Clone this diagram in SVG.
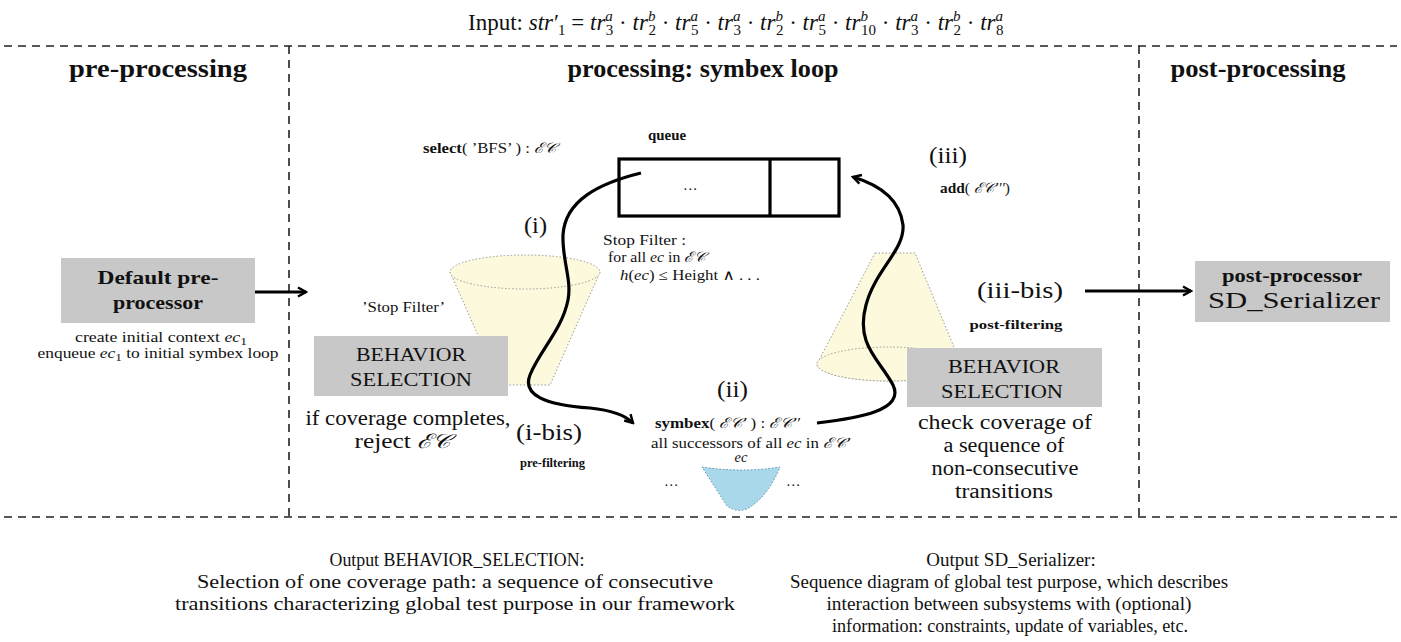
<svg xmlns="http://www.w3.org/2000/svg" width="1401" height="642" viewBox="0 0 1401 642">
<style>
text{font-family:"Liberation Serif","DejaVu Serif",serif;fill:#111}
.h{font-size:26px;font-weight:bold;text-anchor:middle}
.box{fill:#c8c8c8}
.bt{font-size:19px;text-anchor:middle}
.sm{font-size:14.5px}
.lbl{font-size:23px}
.it{font-style:italic}
.b{font-weight:bold}
.dash{stroke:#222;stroke-width:1.6;stroke-dasharray:8,6;fill:none}
.cone{fill:#fdf9dc;stroke:#999;stroke-width:1;stroke-dasharray:1.5,2}
.con{fill:none;stroke:#000;stroke-width:3.2}
.mid{text-anchor:middle}
.md{font-size:20px;text-anchor:middle}
.out{font-size:19px;text-anchor:middle}
</style>
<defs>
<marker id="arr" viewBox="0 0 12 12" refX="10" refY="6" markerWidth="12" markerHeight="12" markerUnits="userSpaceOnUse" orient="auto">
<path d="M2,1.5 L10,6 L2,10.5" fill="none" stroke="#000" stroke-width="2.4"/>
</marker>
</defs>

<g id="title">
<text x="468" y="30" font-size="23">Input: <tspan class="it">str</tspan><tspan dx="1">′</tspan><tspan font-size="15" dx="-1" dy="5">1</tspan><tspan dy="-5"> = </tspan><tspan class="it">tr</tspan><tspan class="it" font-size="15" dy="-9">a</tspan><tspan font-size="15" dx="-7" dy="14">3</tspan><tspan dy="-5"> · </tspan><tspan class="it">tr</tspan><tspan class="it" font-size="15" dy="-9">b</tspan><tspan font-size="15" dx="-7" dy="14">2</tspan><tspan dy="-5"> · </tspan><tspan class="it">tr</tspan><tspan class="it" font-size="15" dy="-9">a</tspan><tspan font-size="15" dx="-7" dy="14">5</tspan><tspan dy="-5"> · </tspan><tspan class="it">tr</tspan><tspan class="it" font-size="15" dy="-9">a</tspan><tspan font-size="15" dx="-7" dy="14">3</tspan><tspan dy="-5"> · </tspan><tspan class="it">tr</tspan><tspan class="it" font-size="15" dy="-9">b</tspan><tspan font-size="15" dx="-7" dy="14">2</tspan><tspan dy="-5"> · </tspan><tspan class="it">tr</tspan><tspan class="it" font-size="15" dy="-9">a</tspan><tspan font-size="15" dx="-7" dy="14">5</tspan><tspan dy="-5"> · </tspan><tspan class="it">tr</tspan><tspan class="it" font-size="15" dy="-9">b</tspan><tspan font-size="15" dx="-7" dy="14">10</tspan><tspan dy="-5"> · </tspan><tspan class="it">tr</tspan><tspan class="it" font-size="15" dy="-9">a</tspan><tspan font-size="15" dx="-7" dy="14">3</tspan><tspan dy="-5"> · </tspan><tspan class="it">tr</tspan><tspan class="it" font-size="15" dy="-9">b</tspan><tspan font-size="15" dx="-7" dy="14">2</tspan><tspan dy="-5"> · </tspan><tspan class="it">tr</tspan><tspan class="it" font-size="15" dy="-9">a</tspan><tspan font-size="15" dx="-7" dy="14">8</tspan></text>
</g>

<g id="frame">
<line class="dash" x1="4" y1="46" x2="1397" y2="46"/>
<line class="dash" x1="4" y1="517" x2="1397" y2="517"/>
<line class="dash" x1="289" y1="46" x2="289" y2="517"/>
<line class="dash" x1="1139" y1="46" x2="1139" y2="517"/>
<text class="h" x="158" y="77" textLength="178" lengthAdjust="spacingAndGlyphs">pre-processing</text>
<text class="h" x="703" y="77" textLength="271" lengthAdjust="spacingAndGlyphs">processing: symbex loop</text>
<text class="h" x="1258" y="77" textLength="175" lengthAdjust="spacingAndGlyphs">post-processing</text>
</g>

<g id="pre-processor">
<rect class="box" x="61" y="258" width="194" height="65"/>
<text class="bt b" x="158" y="284" textLength="121" lengthAdjust="spacingAndGlyphs">Default pre-</text>
<text class="bt b" x="158" y="309" textLength="90" lengthAdjust="spacingAndGlyphs">processor</text>
<text class="sm mid" x="161" y="342" textLength="172" lengthAdjust="spacingAndGlyphs">create initial context <tspan class="it">ec</tspan><tspan font-size="11" dy="3">1</tspan></text>
<text class="sm mid" x="158" y="358" textLength="241" lengthAdjust="spacingAndGlyphs">enqueue <tspan class="it">ec</tspan><tspan font-size="11" dy="3">1</tspan><tspan dy="-3"> to initial symbex loop</tspan></text>
</g>

<g id="left-cone">
<path class="cone" d="M450,272 L500,385 L550,385 L600,272 Z"/>
<ellipse class="cone" cx="525" cy="272" rx="75" ry="17"/>
</g>

<g id="right-cone">
<path class="cone" d="M875,253 L915,253 L961,364 A72,17 0 0 1 817,364 Z"/>
<ellipse class="cone" cx="889" cy="364" rx="72" ry="17"/>
</g>

<g id="queue">
<text class="sm b mid" x="667" y="140" textLength="38" lengthAdjust="spacingAndGlyphs">queue</text>
<rect x="619" y="159" width="220" height="57" fill="#fff" stroke="#000" stroke-width="3.2"/>
<line x1="770" y1="159" x2="770" y2="216" stroke="#000" stroke-width="3.2"/>
<text class="sm" x="683" y="190">…</text>
</g>

<g id="select-label">
<text class="sm" x="423" y="153" textLength="134" lengthAdjust="spacingAndGlyphs"><tspan class="b">select</tspan>( ’BFS’ ) : <tspan class="it">ℰ𝒞</tspan></text>
<text class="lbl" x="524" y="233" textLength="23" lengthAdjust="spacingAndGlyphs">(i)</text>
<text class="sm" x="603" y="245" textLength="83" lengthAdjust="spacingAndGlyphs">Stop Filter :</text>
<text class="sm" x="608" y="262" textLength="98" lengthAdjust="spacingAndGlyphs">for all <tspan class="it">ec</tspan> in <tspan class="it">ℰ𝒞</tspan></text>
<text class="sm" x="620" y="280" textLength="140" lengthAdjust="spacingAndGlyphs"><tspan class="it">h</tspan>(<tspan class="it">ec</tspan>) ≤ Height ∧ . . .</text>
</g>

<g id="add-label">
<text class="lbl" x="929" y="163" textLength="38" lengthAdjust="spacingAndGlyphs">(iii)</text>
<text class="sm" x="940" y="193" textLength="70" lengthAdjust="spacingAndGlyphs"><tspan class="b">add</tspan>( <tspan class="it">ℰ𝒞′′′</tspan>)</text>
</g>

<g id="behavior-selection-pre">
<text class="sm" x="362" y="312" textLength="83" lengthAdjust="spacingAndGlyphs">’Stop Filter’</text>
<rect class="box" x="314" y="336" width="194" height="60"/>
<text class="bt" x="411" y="361" textLength="110" lengthAdjust="spacingAndGlyphs">BEHAVIOR</text>
<text class="bt" x="411" y="386" textLength="122" lengthAdjust="spacingAndGlyphs">SELECTION</text>
<text class="md" x="408" y="425" textLength="205" lengthAdjust="spacingAndGlyphs">if coverage completes,</text>
<text class="md" x="403" y="448" textLength="97" lengthAdjust="spacingAndGlyphs">reject <tspan class="it">ℰ𝒞</tspan></text>
<text class="lbl" x="516" y="440" textLength="66" lengthAdjust="spacingAndGlyphs">(i-bis)</text>
<text font-size="13.5" class="b" x="520" y="467" textLength="65" lengthAdjust="spacingAndGlyphs">pre-filtering</text>
</g>

<g id="symbex">
<text class="lbl" x="717" y="397" textLength="31" lengthAdjust="spacingAndGlyphs">(ii)</text>
<text class="sm" x="655" y="428" textLength="145" lengthAdjust="spacingAndGlyphs"><tspan class="b">symbex</tspan>( <tspan class="it">ℰ𝒞′</tspan> ) : <tspan class="it">ℰ𝒞′′</tspan></text>
<text class="sm" x="651" y="448" textLength="199" lengthAdjust="spacingAndGlyphs">all successors of all <tspan class="it">ec</tspan> in <tspan class="it">ℰ𝒞′</tspan></text>
<text class="sm it mid" x="741" y="462">ec</text>
<text class="sm" x="664" y="486">…</text>
<text class="sm" x="786" y="486">…</text>
<path d="M702,467 Q741,473 780,467 Q768,497 747,509 Q737,513 727,506 Z" fill="#a9d8ea" stroke="#5a8fa8" stroke-width="1" stroke-dasharray="1.5,2"/>
</g>

<g id="behavior-selection-post">
<text class="lbl mid" x="1020" y="298" textLength="86" lengthAdjust="spacingAndGlyphs">(iii-bis)</text>
<text font-size="13.5" class="b mid" x="1016" y="329" textLength="93" lengthAdjust="spacingAndGlyphs">post-filtering</text>
<rect class="box" x="907" y="348" width="195" height="59"/>
<text class="bt" x="1004" y="373" textLength="112" lengthAdjust="spacingAndGlyphs">BEHAVIOR</text>
<text class="bt" x="1002" y="398" textLength="122" lengthAdjust="spacingAndGlyphs">SELECTION</text>
<text class="md" x="1005" y="429" textLength="174" lengthAdjust="spacingAndGlyphs">check coverage of</text>
<text class="md" x="1004" y="452" textLength="121" lengthAdjust="spacingAndGlyphs">a sequence of</text>
<text class="md" x="1005" y="475" textLength="147" lengthAdjust="spacingAndGlyphs">non-consecutive</text>
<text class="md" x="1004" y="498" textLength="98" lengthAdjust="spacingAndGlyphs">transitions</text>
</g>

<g id="post-processor">
<rect class="box" x="1195" y="261" width="195" height="61"/>
<text class="b mid" font-size="18" x="1292" y="282" textLength="140" lengthAdjust="spacingAndGlyphs">post-processor</text>
<text class="mid" font-size="24" x="1294" y="308" textLength="172" lengthAdjust="spacingAndGlyphs">SD_Serializer</text>
</g>

<g id="connectors">
<line class="con" x1="255" y1="292" x2="306" y2="292" marker-end="url(#arr)"/>
<line class="con" x1="1085" y1="291" x2="1191" y2="291" marker-end="url(#arr)"/>
<path class="con" d="M641,173 C600,183 565,200 563,235 C562,260 572,280 568,300 C562,330 540,350 530,375 C522,395 545,405 590,408 C610,410 625,415 633,423" marker-end="url(#arr)"/>
<path class="con" d="M817,423 C860,418 905,410 893,385 C880,360 855,345 866,305 C875,270 905,250 903,225 C900,200 880,185 853,177" marker-end="url(#arr)"/>
</g>

<g id="outputs">
<text class="out" x="457" y="566" textLength="255" lengthAdjust="spacingAndGlyphs">Output BEHAVIOR_SELECTION:</text>
<text class="out" x="455" y="588" textLength="516" lengthAdjust="spacingAndGlyphs">Selection of one coverage path: a sequence of consecutive</text>
<text class="out" x="455" y="610" textLength="560" lengthAdjust="spacingAndGlyphs">transitions characterizing global test purpose in our framework</text>
<text class="out" x="1011" y="566">Output SD_Serializer:</text>
<text class="out" x="1009" y="588" textLength="438" lengthAdjust="spacingAndGlyphs">Sequence diagram of global test purpose, which describes</text>
<text class="out" x="1009" y="610" textLength="365" lengthAdjust="spacingAndGlyphs">interaction between subsystems with (optional)</text>
<text class="out" x="1010" y="632" textLength="356" lengthAdjust="spacingAndGlyphs">information: constraints, update of variables, etc.</text>
</g>
</svg>
